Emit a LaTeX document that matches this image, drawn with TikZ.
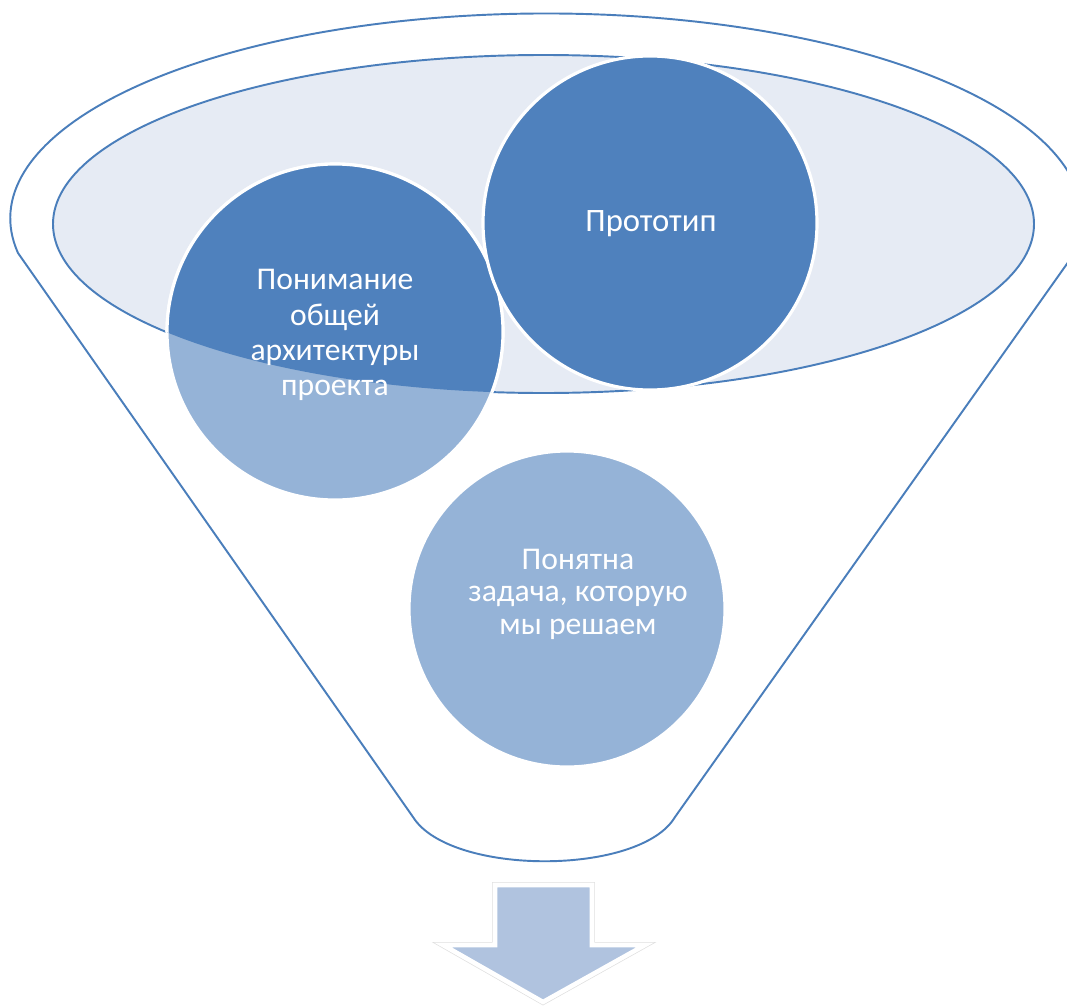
\documentclass[tikz,border=0pt]{standalone}
\usepackage{fontspec}
\setmainfont{Carlito}
\definecolor{darkblue}{HTML}{4F81BD}
\definecolor{lightblue}{HTML}{95B3D7}
\definecolor{rimfill}{HTML}{E6EBF4}
\definecolor{rimline}{HTML}{4A7EBB}
\definecolor{arrowfill}{HTML}{B0C3DF}
\begin{document}
\begin{tikzpicture}[x=0.02cm, y=-0.02cm,
		funnelline/.style={draw=rimline, line width=1.1pt},
		bubble/.style={draw=white, line width=1.8pt},
		bubbletext/.style={text=white, align=center}]
		\useasboundingbox (0,0) rectangle (1067,1007);
		\draw[funnelline, fill=white] (413,817) -- (18,253)
			arc[start angle=170.3, end angle=369.7, x radius=536, y radius=205]
			-- (675,817) .. controls (640,876) and (450,876) .. (413,817) -- cycle;
		\draw[funnelline, fill=rimfill] (543.5,224) ellipse[x radius=490.5, y radius=169];
		\draw[bubble, fill=lightblue] (567,609) circle[radius=158];
		\draw[bubble, fill=lightblue] (335,332) circle[radius=168];
		\begin{scope}
			\clip (543.5,224) ellipse[x radius=490.5, y radius=169];
			\draw[bubble, fill=darkblue] (335,332) circle[radius=168];
		\end{scope}
		\draw[bubble, fill=darkblue] (650,223) circle[radius=167];
		\node[bubbletext, font=\fontsize{18.6}{22}\selectfont] (proto) at (651,224) {Прототип};
		\node[bubbletext, font=\fontsize{18}{20}\selectfont] (arch) at (335,335) {Понимание\\общей\\архитектуры\\проекта};
		\node[bubbletext, font=\fontsize{18}{18.5}\selectfont] (task) at (578,594) {Понятна\\задача, которую\\мы решаем};
		\draw[gray!25, line width=3.4pt] (495,885) -- (592,885) -- (592,945) -- (645,945) -- (543,1002) -- (443,945) -- (495,945) -- cycle;
		\draw[fill=arrowfill, draw=white, line width=2.6pt] (495,885) -- (592,885) -- (592,945) -- (645,945) -- (543,1002) -- (443,945) -- (495,945) -- cycle;
	\end{tikzpicture}
\end{document}
